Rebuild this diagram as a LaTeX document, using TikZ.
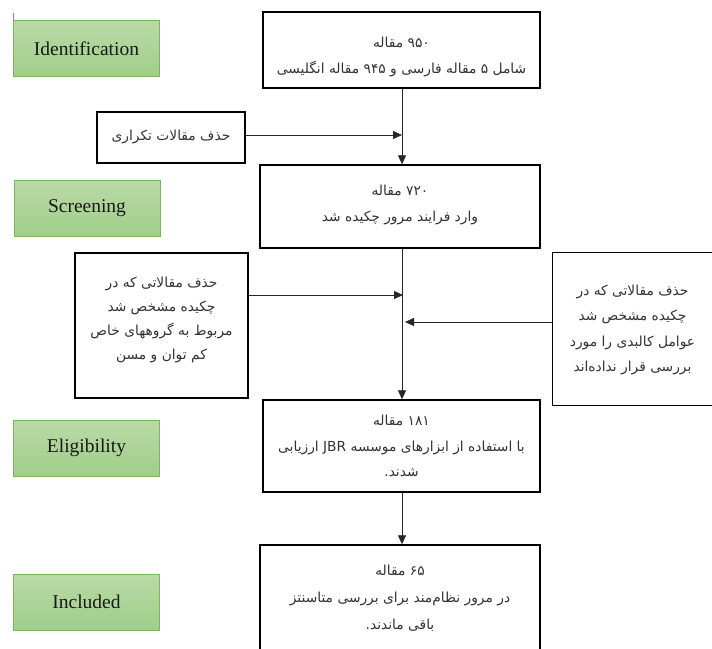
\documentclass[tikz,border=0pt]{standalone}
\usepackage{fontspec}
\setmainfont{Liberation Serif}
\newfontfamily\arabicfont[Script=Arabic]{DejaVu Sans}
\TeXXeTstate=1
\usetikzlibrary{arrows.meta}
\newcommand\rtltext[1]{\beginR #1\endR}
\definecolor{gtop}{HTML}{B9DAA7}
\definecolor{gbot}{HTML}{A0CE89}
\definecolor{gline}{HTML}{7DB55E}
\tikzset{
  phase/.style={rectangle, draw=gline, line width=0.9pt, top color=gtop, bottom color=gbot,
    minimum width=146pt, minimum height=56pt, inner sep=0pt,
    font=\fontsize{19.5}{21}\selectfont, text=black!90},
  mainbox/.style={rectangle, draw=black, line width=1.4pt, inner sep=0pt},
  sidebox/.style={rectangle, draw=black, line width=1.1pt, inner sep=0pt},
  maintext/.style={inner sep=0pt, align=center, font=\arabicfont\fontsize{13.8}{25.5}\selectfont, text=black!80},
  sidetext/.style={inner sep=0pt, align=center, font=\arabicfont\fontsize{13.8}{24}\selectfont, text=black!80},
  conn/.style={draw=black!85, line width=0.8pt, -{Triangle[length=9pt,width=8pt]}}
}
\begin{document}
\begin{tikzpicture}[x=1pt,y=-1pt]
\useasboundingbox (0,0) rectangle (712,648);
% phase labels
\node[phase] (ident) at (86.5,48.5) {Identification};
\node[phase] (screen) at (87,208) {Screening};
\node[phase] (elig) at (86.5,448) {Eligibility};
\node[phase] (incl) at (86.5,602) {Included};
\draw[violet!60, line width=0.8pt] (ident.north west) -- ++(0,-7);
% boxes
\node[mainbox, minimum width=277pt, minimum height=76pt] (b1) at (401.5,50) {};
\node[maintext] (b1t) at (401.5,57)
  {\rtltext{۹۵۰ مقاله}\\ \rtltext{شامل ۵ مقاله فارسی و ۹۴۵ مقاله انگلیسی}};
\node[sidebox, minimum width=148pt, minimum height=51pt] (dup) at (171,137.5) {};
\node[sidetext] (dupt) at (171,137) {\rtltext{حذف مقالات تکراری}};
\node[mainbox, minimum width=280pt, minimum height=83pt] (b2) at (400,206.5) {};
\node[maintext] (b2t) at (400,205)
  {\rtltext{۷۲۰ مقاله}\\ \rtltext{وارد فرایند مرور چکیده شد}};
\node[sidebox, minimum width=173pt, minimum height=145pt] (lft) at (161.5,325.5) {};
\node[sidetext] (lftt) at (161.5,320)
  {\rtltext{حذف مقالاتی که در}\\ \rtltext{چکیده مشخص  شد}\\ \rtltext{مربوط به گروههای خاص}\\ \rtltext{کم توان و مسن}};
\node[minimum width=159pt, minimum height=152pt, inner sep=0pt] (rgt) at (632.5,329) {};
\node[sidetext, font=\arabicfont\fontsize{13.8}{25.5}\selectfont] (rgtt) at (632.5,330)
  {\rtltext{حذف مقالاتی که در}\\ \rtltext{چکیده مشخص  شد}\\ \rtltext{عوامل کالبدی را مورد}\\ \rtltext{بررسی قرار نداده‌اند}};
\draw[line width=1.1pt] ([xshift=4pt]rgt.north east) -- (rgt.north west) -- (rgt.south west) -- ([xshift=4pt]rgt.south east);
\node[mainbox, minimum width=277pt, minimum height=92pt] (b3) at (401.5,446) {};
\node[maintext] (b3t) at (401.5,446)
  {\rtltext{۱۸۱ مقاله}\\ \rtltext{با استفاده از ابزارهای موسسه \beginL JBR\endL{} ارزیابی}\\ \rtltext{شدند.}};
\node[mainbox, minimum width=280pt, minimum height=106pt] (b4) at (400,598) {};
\node[maintext, font=\arabicfont\fontsize{13.8}{27}\selectfont] (b4t) at (400,598.5)
  {\rtltext{۶۵ مقاله}\\ \rtltext{در مرور نظام‌مند برای بررسی متاسنتز}\\ \rtltext{باقی ماندند.}};
% connectors
\coordinate (j1) at (402,135);
\coordinate (j2) at (403,295);
\coordinate (j3) at (405,322);
\draw[conn] (b1.south -| j1) -- (b2.north -| j1);
\draw[conn] (dup.east |- j1) -- (j1);
\draw[conn] (b2.south -| j1) -- (b3.north -| j1);
\draw[conn] (lft.east |- j2) -- (j2);
\draw[conn] (rgt.west |- j3) -- (j3);
\draw[conn] (b3.south -| j1) -- (b4.north -| j1);
\end{tikzpicture}
\end{document}
